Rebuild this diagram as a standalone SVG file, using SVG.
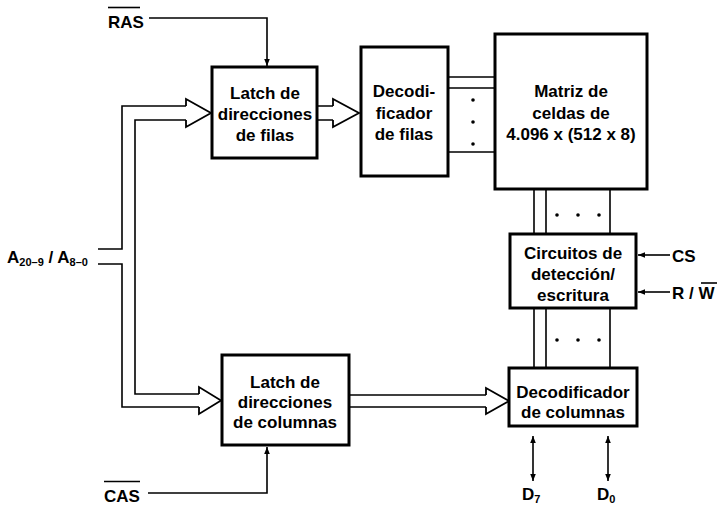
<svg xmlns="http://www.w3.org/2000/svg" width="722" height="506" viewBox="0 0 722 506">
<defs>
<style>
.box{fill:#fff;stroke:#000;stroke-width:3}
.ln{fill:none;stroke:#000;stroke-width:1.6}
.bus{fill:#fff;stroke:#000;stroke-width:1.8;stroke-linejoin:miter}
.t{font-family:"Liberation Sans",Arial,sans-serif;font-weight:bold;font-size:17px;fill:#000;text-anchor:middle}
.l{font-family:"Liberation Sans",Arial,sans-serif;font-weight:bold;font-size:17px;fill:#000}
.s{font-size:11px}
.dot{fill:#000}
</style>
<marker id="ah" viewBox="0 0 10 10" refX="10" refY="5" markerWidth="7" markerHeight="7" markerUnits="userSpaceOnUse" orient="auto-start-reverse">
<path d="M0,1 L10,5 L0,9 Z" fill="#000"/>
</marker>
</defs>
<rect width="722" height="506" fill="#fff"/>
<g id="connectors">
<path class="ln" d="M149,18 H267 V66" marker-end="url(#ah)"/>
<path class="ln" d="M148,493 H267 V447" marker-end="url(#ah)"/>
<path class="ln" d="M98,249 H122 V106 H186"/>
<path class="ln" d="M186,120 H135 V394 H199"/>
<path class="ln" d="M98,264 H122 V407 H199"/>
<path class="bus" d="M186,106 V99 L211,113 L186,127 V120"/>
<path class="bus" d="M199,394 V387 L221,400.5 L199,414 V407"/>
<path class="ln" d="M317,106 H333 M317,120 H333"/>
<path class="bus" d="M333,106 V99 L359,113 L333,127 V120"/>
<path class="ln" d="M349,395 H486 M349,407 H486"/>
<path class="bus" d="M486,395 V388 L509,401 L486,414 V407"/>
<path class="ln" d="M448,77 H495 M448,88 H495 M448,152 H495"/>
<circle class="dot" cx="473" cy="100" r="1.8"/>
<circle class="dot" cx="473" cy="122" r="1.8"/>
<circle class="dot" cx="473" cy="144" r="1.8"/>
<path class="ln" d="M534,189 V234 M546,189 V234 M610,189 V234"/>
<circle class="dot" cx="557" cy="215" r="1.8"/>
<circle class="dot" cx="578" cy="215" r="1.8"/>
<circle class="dot" cx="599" cy="215" r="1.8"/>
<path class="ln" d="M534,308 V368 M546,308 V368 M610,308 V368"/>
<circle class="dot" cx="557" cy="340" r="1.8"/>
<circle class="dot" cx="578" cy="340" r="1.8"/>
<circle class="dot" cx="599" cy="340" r="1.8"/>
<path class="ln" d="M670,255 H638" marker-end="url(#ah)"/>
<path class="ln" d="M670,292 H638" marker-end="url(#ah)"/>
<path class="ln" d="M533,436 V481" marker-start="url(#ah)" marker-end="url(#ah)"/>
<path class="ln" d="M608,436 V481" marker-start="url(#ah)" marker-end="url(#ah)"/>
</g>
<g id="latch-filas">
<rect class="box" x="212" y="67" width="105" height="91"/>
<text class="t" x="265" y="99">Latch de</text>
<text class="t" x="265" y="120">direcciones</text>
<text class="t" x="265" y="141">de filas</text>
</g>
<g id="decod-filas">
<rect class="box" x="361" y="47" width="87" height="129"/>
<text class="t" x="404" y="97">Decodi-</text>
<text class="t" x="404" y="119">ficador</text>
<text class="t" x="404" y="140">de filas</text>
</g>
<g id="matriz">
<rect class="box" x="495" y="34" width="152" height="155"/>
<text class="t" x="571" y="97">Matriz de</text>
<text class="t" x="571" y="119">celdas de</text>
<text class="t" x="571" y="140">4.096 x (512 x 8)</text>
</g>
<g id="circuitos">
<rect class="box" x="510" y="234" width="126" height="74"/>
<text class="t" x="573" y="259">Circuitos de</text>
<text class="t" x="573" y="280">detección/</text>
<text class="t" x="573" y="301">escritura</text>
</g>
<g id="decod-columnas">
<rect class="box" x="509" y="368" width="128" height="58"/>
<text class="t" x="573" y="398">Decodificador</text>
<text class="t" x="573" y="418">de columnas</text>
</g>
<g id="latch-columnas">
<rect class="box" x="222" y="355" width="127" height="90"/>
<text class="t" x="285" y="388">Latch de</text>
<text class="t" x="285" y="408">direcciones</text>
<text class="t" x="285" y="428">de columnas</text>
</g>
<g id="labels">
<text class="l" x="108" y="28">RAS</text>
<path class="ln" d="M108,7.5 H140"/>
<text class="l" x="104" y="502">CAS</text>
<path class="ln" d="M104,481.5 H140"/>
<text class="l" x="7" y="263">A<tspan class="s" dy="3">20–9</tspan><tspan dy="-3"> / A</tspan><tspan class="s" dy="3">8–0</tspan></text>
<text class="l" x="672" y="262">CS</text>
<text class="l" x="672" y="299">R / W</text>
<path class="ln" d="M701,283 H717"/>
<text class="l" x="522" y="500">D<tspan class="s" dy="3">7</tspan></text>
<text class="l" x="597" y="500">D<tspan class="s" dy="3">0</tspan></text>
</g>
</svg>
